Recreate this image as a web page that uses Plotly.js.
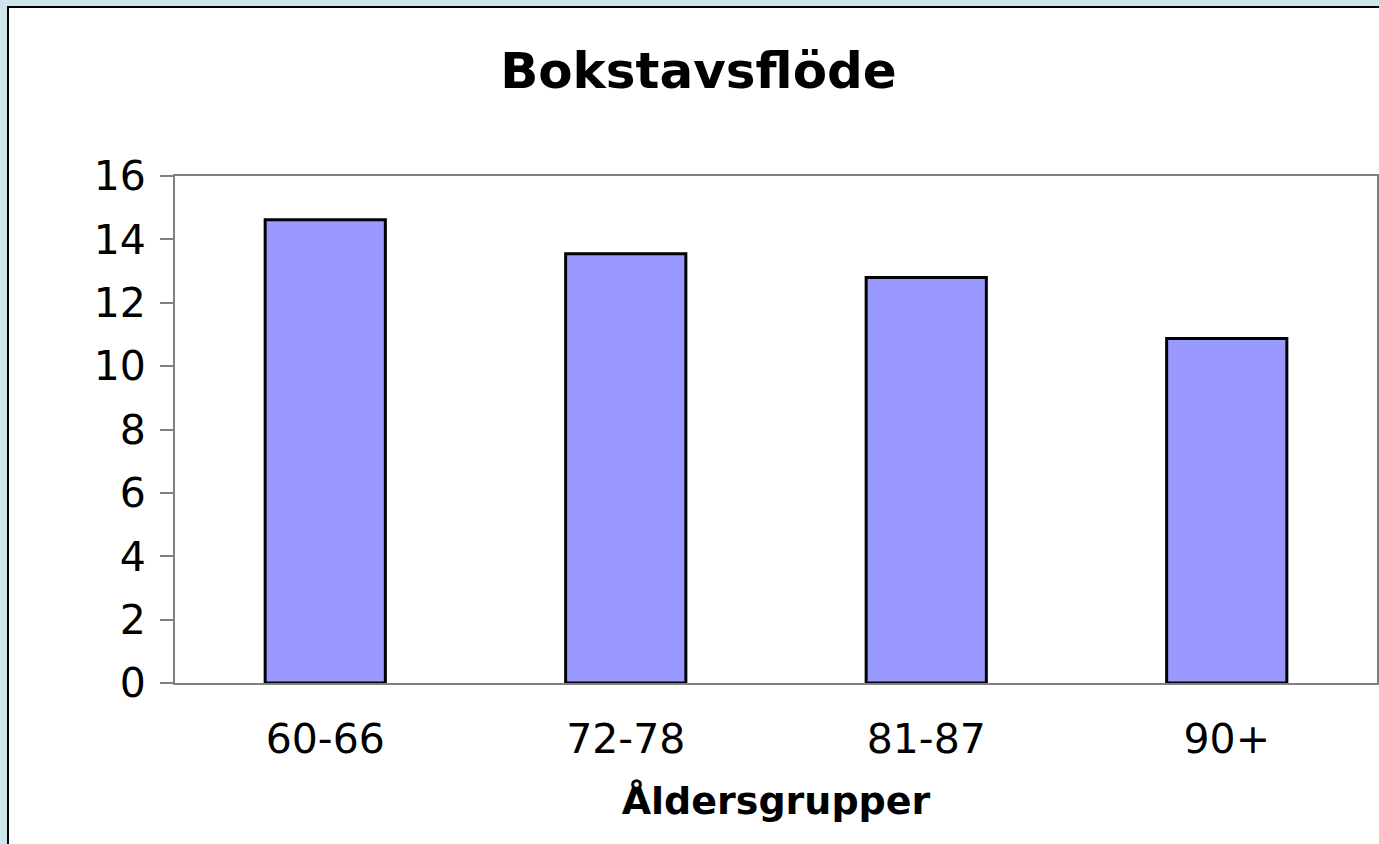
<!DOCTYPE html>
<html>
<head>
<meta charset="utf-8">
<script src="https://cdn.plot.ly/plotly-3.0.1.min.js"></script>
<style>
html, body { margin:0; padding:0; width:1379px; height:844px; overflow:hidden; background:#cfe5ec; }
#wrap { position:absolute; left:7px; top:6px; width:1400px; height:860px; border-left:2px solid #000; border-top:2px solid #000; background:#fff; }
#chart { position:absolute; left:0; top:0; width:1390px; height:850px; }
</style>
</head>
<body>
<div id="wrap"><div id="chart"></div></div>
<script>
const categories = ["60-66", "72-78", "81-87", "90+"];
const values = [14.62, 13.55, 12.80, 10.87];
const yTicks = [0, 2, 4, 6, 8, 10, 12, 14, 16];

const trace = {
  type: 'bar',
  x: categories,
  y: values,
  marker: { color: '#9999ff', line: { color: '#000000', width: 3 } },
  hoverinfo: 'x+y'
};

const layout = {
  width: 1390, height: 850,
  margin: { l: 166, r: 22, t: 168, b: 175 },
  paper_bgcolor: '#ffffff',
  plot_bgcolor: '#ffffff',
  showlegend: false,
  bargap: 0.6,
  font: { family: 'DejaVu Sans, Verdana, sans-serif', color: '#000' },
  title: {
    text: '<b>Bokstavsflöde</b>',
    font: { family: 'DejaVu Sans, Verdana, sans-serif', size: 50, color: '#000' },
    x: 0.496, xref: 'container', xanchor: 'center',
    y: 0.927, yref: 'container', yanchor: 'middle'
  },
  xaxis: {
    type: 'category',
    showline: true, linecolor: '#808080', linewidth: 2, mirror: true,
    ticks: '', showgrid: false, zeroline: false,
    tickfont: { size: 41, color: '#000' },
    ticklabelstandoff: 19,
    title: { text: '<b>Åldersgrupper</b>', font: { size: 38, color: '#000' }, standoff: 25 }
  },
  yaxis: {
    range: [0, 16],
    tickvals: yTicks,
    ticktext: yTicks.map(String),
    showline: true, linecolor: '#808080', linewidth: 2, mirror: true,
    ticks: 'outside', ticklen: 13, tickwidth: 2, tickcolor: '#808080',
    showgrid: false, zeroline: false,
    tickfont: { size: 41, color: '#000' },
    ticklabelstandoff: 6
  }
};

Plotly.newPlot('chart', [trace], layout, { displayModeBar: false, staticPlot: true });
</script>
</body>
</html>
